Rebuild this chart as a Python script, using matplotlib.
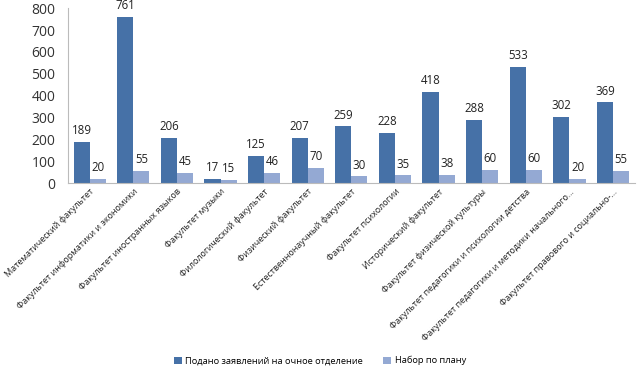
import numpy as np
import matplotlib.pyplot as plt

faculties = [
    "Математический факультет",
    "Факультет информатики и экономики",
    "Факультет иностранных языков",
    "Факультет музыки",
    "Филологический факультет",
    "Физический факультет",
    "Естественнонаучный факультет",
    "Факультет психологии",
    "Исторический факультет",
    "Факультет физической культуры",
    "Факультет педагогики и психологии детства",
    "Факультет педагогики и методики начального…",
    "Факультет правового и социально-…",
]
applications = [189, 761, 206, 17, 125, 207, 259, 228, 418, 288, 533, 302, 369]
plan = [20, 55, 45, 15, 46, 70, 30, 35, 38, 60, 60, 20, 55]

plt.rcParams['font.family'] = ['Open Sans', 'DejaVu Sans']

fig = plt.figure(figsize=(6.4, 3.72), dpi=100)
ax = fig.add_axes([0.106, 0.508, 0.886, 0.47])

x = np.arange(len(faculties))
w = 0.37
dark = "#4671A7"
light = "#94A9D3"
b1 = ax.bar(x - w/2, applications, w, color=dark, label="Подано заявлений на очное отделение")
b2 = ax.bar(x + w/2, plan, w, color=light, label="Набор по плану")

for bars in (b1, b2):
    for r in bars:
        ax.annotate(str(int(r.get_height())), (r.get_x() + r.get_width()/2, r.get_height()),
                    xytext=(0, 3.5), textcoords="offset points", ha="center", va="bottom",
                    fontsize=8.3, color="#222222", annotation_clip=False)

ax.set_xlim(-0.5, len(faculties) - 0.5)
ax.set_ylim(0, 800)
ax.set_yticks(range(0, 801, 100))
ax.tick_params(axis="y", length=0, labelsize=10, pad=9, colors="#333333")
ax.tick_params(axis="x", length=0, pad=3)
ax.set_xticks(x)
ax.set_xticklabels(faculties, rotation=45, ha="right", rotation_mode="anchor",
                   fontsize=6.5, color="#222222")
for s in ("top", "right"):
    ax.spines[s].set_visible(False)
for s in ("left", "bottom"):
    ax.spines[s].set_color("#BBBBBB")

fig.legend(loc="lower center", bbox_to_anchor=(0.5, -0.005), ncol=2, frameon=False,
           fontsize=6.7, handlelength=0.8, handleheight=0.8, handletextpad=0.4,
           columnspacing=2.2)

fig.savefig("out.png", dpi=100)
